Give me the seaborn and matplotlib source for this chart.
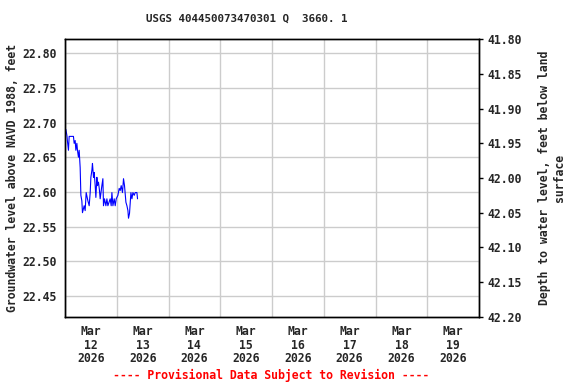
import matplotlib
matplotlib.use("Agg")
import matplotlib.pyplot as plt
import matplotlib.dates as mdates
import seaborn as sns
import pandas as pd
from datetime import datetime

title = "USGS 404450073470301 Q  3660. 1"
left_label = "Groundwater level above NAVD 1988, feet"
right_label = "Depth to water level, feet below land\nsurface"
footer = "---- Provisional Data Subject to Revision ----"

times = [
    "2026-03-11 12:24", "2026-03-11 12:54", "2026-03-11 13:06", "2026-03-11 13:36",
    "2026-03-11 13:56", "2026-03-11 15:55", "2026-03-11 16:15", "2026-03-11 16:43",
    "2026-03-11 17:02", "2026-03-11 17:30", "2026-03-11 17:47", "2026-03-11 18:14",
    "2026-03-11 18:34", "2026-03-11 19:02", "2026-03-11 19:22", "2026-03-11 19:49",
    "2026-03-11 20:06", "2026-03-11 20:53", "2026-03-11 21:21", "2026-03-11 21:49",
    "2026-03-11 22:37", "2026-03-11 23:13", "2026-03-11 23:41", "2026-03-12 00:00",
    "2026-03-12 00:28", "2026-03-12 00:44", "2026-03-12 01:13", "2026-03-12 01:32",
    "2026-03-12 02:00", "2026-03-12 02:19", "2026-03-12 02:47", "2026-03-12 03:04",
    "2026-03-12 03:32", "2026-03-12 03:59", "2026-03-12 04:19", "2026-03-12 05:06",
    "2026-03-12 05:34", "2026-03-12 05:51", "2026-03-12 06:19", "2026-03-12 06:58",
    "2026-03-12 07:26", "2026-03-12 07:53", "2026-03-12 08:57", "2026-03-12 09:25",
    "2026-03-12 09:45", "2026-03-12 10:13", "2026-03-12 10:49", "2026-03-12 11:17",
    "2026-03-12 11:45", "2026-03-12 12:32", "2026-03-12 13:08", "2026-03-12 13:36",
    "2026-03-12 14:04", "2026-03-12 14:40", "2026-03-12 15:08", "2026-03-12 15:36",
    "2026-03-12 16:15", "2026-03-12 16:43", "2026-03-12 17:11", "2026-03-12 17:27",
    "2026-03-12 17:55", "2026-03-12 18:34", "2026-03-12 19:02", "2026-03-12 19:30",
    "2026-03-12 20:06", "2026-03-12 20:34", "2026-03-12 21:21", "2026-03-12 21:38",
]
levels = [
    22.690, 22.681, 22.674, 22.660,
    22.680, 22.680, 22.670, 22.674,
    22.660, 22.670, 22.660, 22.650,
    22.660, 22.635, 22.595, 22.587,
    22.570, 22.580, 22.573, 22.599,
    22.587, 22.580, 22.599, 22.621,
    22.631, 22.641, 22.621, 22.628,
    22.609, 22.592, 22.621, 22.609,
    22.614, 22.602, 22.590, 22.609,
    22.619, 22.580, 22.590, 22.580,
    22.590, 22.580, 22.590, 22.580,
    22.599, 22.580, 22.590, 22.580,
    22.590, 22.595, 22.605, 22.602,
    22.609, 22.599, 22.619, 22.609,
    22.585, 22.580, 22.573, 22.562,
    22.569, 22.599, 22.590, 22.599,
    22.595, 22.599, 22.599, 22.590,
]
left_ticks = [22.45, 22.50, 22.55, 22.60, 22.65, 22.70, 22.75, 22.80]
right_ticks = [41.80, 41.85, 41.90, 41.95, 42.00, 42.05, 42.10, 42.15, 42.20]
datum = 64.62
ylim_level = (22.42, 22.82)

df = pd.DataFrame({"time": pd.to_datetime(times), "level": levels})

sns.set_style("white")
plt.rcParams["font.family"] = ["DejaVu Sans Mono"]
plt.rcParams["font.weight"] = "bold"
fs = 8.3

fig = plt.figure(figsize=(5.76, 3.84), dpi=100)
W, H = 576, 384
ax = fig.add_axes([65 / W, 1 - 316.7 / H, (479 - 65) / W, (316.7 - 39.3) / H])

sns.lineplot(data=df, x="time", y="level", ax=ax, color="#0000ff", lw=0.8, sort=False)

ax.set_xlim(datetime(2026, 3, 11, 12), datetime(2026, 3, 19, 12))
ax.set_ylim(*ylim_level)
ax.set_yticks(left_ticks)
ax.set_yticklabels([f"{v:.2f}" for v in left_ticks], fontsize=fs, fontweight="bold")
ax.tick_params(axis="y", length=0, pad=6)

ax.xaxis.set_major_locator(mdates.HourLocator(byhour=[12]))
ax.xaxis.set_major_formatter(plt.NullFormatter())
ax.xaxis.set_minor_locator(mdates.DayLocator())
ax.xaxis.set_minor_formatter(mdates.DateFormatter("%b\n%d\n%Y"))
ax.tick_params(axis="x", which="both", length=0)
ax.tick_params(axis="x", which="minor", pad=6, labelsize=fs)
for lab in ax.xaxis.get_minorticklabels():
    lab.set_fontweight("bold")
    lab.set_linespacing(1.05)

ax.grid(True, which="major", color="#cccccc", lw=1)
ax.set_xlabel("")
ax.set_ylabel(left_label, fontsize=fs, fontweight="bold", labelpad=2.4)
for s in ax.spines.values():
    s.set_color("black")
    s.set_linewidth(1)

ax2 = ax.twinx()
ax2.set_ylim(datum - ylim_level[0], datum - ylim_level[1])
ax2.set_yticks(right_ticks)
ax2.set_yticklabels([f"{v:.2f}" for v in right_ticks], fontsize=fs, fontweight="bold")
ax2.tick_params(axis="y", length=3, width=1, pad=3, color="black")
ax2.set_ylabel(right_label, fontsize=fs, fontweight="bold", labelpad=11.5, rotation=90)
for s in ax2.spines.values():
    s.set_color("black")
    s.set_linewidth(1)

fig.text(246.5 / W, 1 - 19 / H, title, ha="center", va="center", fontsize=7.8, fontweight="bold")
fig.text(271 / W, 1 - 375 / H, footer, ha="center", va="center", fontsize=fs,
         fontweight="bold", color="red")

fig.savefig("out.png", dpi=100)
